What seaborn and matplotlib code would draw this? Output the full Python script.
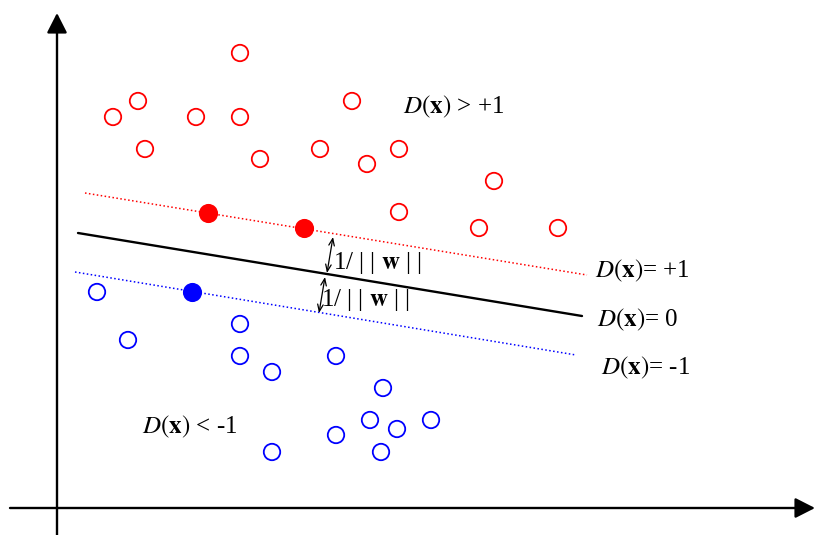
import matplotlib
matplotlib.use("Agg")
import matplotlib.pyplot as plt
import seaborn as sns
import pandas as pd

# positive class (hollow), pixel coordinates
red_x = [240, 138, 113, 196, 240, 352, 145, 260, 320, 367, 399, 494, 399, 479, 558]
red_y = [53, 101, 117, 117, 117, 101, 149, 159, 149, 164, 149, 181, 212, 228, 228]
# support vectors of positive class
red_sv_x = [208, 304]
red_sv_y = [213, 228]

# negative class
blue_x = [97, 128, 240, 240, 272, 336, 383, 370, 397, 431, 336, 272, 381]
blue_y = [292, 340, 324, 356, 372, 356, 388, 420, 429, 420, 435, 452, 452]
blue_sv_x = [192]
blue_sv_y = [292]

# boundary lines (end points)
plus_x, plus_y = [85, 587], [193, 275]
zero_x, zero_y = [78, 582], [233, 316]
minus_x, minus_y = [75, 576], [272, 355]

sns.set_style("white")
plt.rcParams["mathtext.fontset"] = "stix"
plt.rcParams["font.family"] = ["Liberation Serif", "DejaVu Serif"]
plt.rcParams["text.color"] = "black"

fig = plt.figure(figsize=(8.15, 5.35), dpi=100)
ax = fig.add_axes([0, 0, 1, 1])
ax.set_xlim(0, 815)
ax.set_ylim(535, 0)
ax.axis("off")

# axes with arrows
arr = dict(arrowstyle="-|>,head_length=0.55,head_width=0.28", mutation_scale=22,
           lw=1.7, color="black", shrinkA=0, shrinkB=0)
ax.annotate("", xy=(57, 13), xytext=(57, 535), arrowprops=arr)
ax.annotate("", xy=(815, 508), xytext=(10, 508), arrowprops=arr)

# hyperplanes
sns.lineplot(x=plus_x, y=plus_y, ax=ax, color="red", lw=1.1, linestyle=(0, (1, 1.6)))
sns.lineplot(x=zero_x, y=zero_y, ax=ax, color="black", lw=1.7)
sns.lineplot(x=minus_x, y=minus_y, ax=ax, color="blue", lw=1.1, linestyle=(0, (1, 1.6)))

# points
pos = pd.DataFrame({"x": red_x, "y": red_y})
neg = pd.DataFrame({"x": blue_x, "y": blue_y})
sns.scatterplot(data=pos, x="x", y="y", ax=ax, s=140, facecolor="none",
                edgecolor="red", linewidth=1.3, zorder=3)
sns.scatterplot(data=neg, x="x", y="y", ax=ax, s=140, facecolor="none",
                edgecolor="blue", linewidth=1.3, zorder=3)
sns.scatterplot(x=red_sv_x, y=red_sv_y, ax=ax, s=190, color="red", linewidth=0, zorder=3)
sns.scatterplot(x=blue_sv_x, y=blue_sv_y, ax=ax, s=190, color="blue", linewidth=0, zorder=3)

# margin arrows
marg = dict(arrowstyle="<->,head_length=0.5,head_width=0.2", mutation_scale=10,
            lw=0.9, color="black", shrinkA=0, shrinkB=0)
ax.annotate("", xy=(333, 237), xytext=(327, 273), arrowprops=marg)
ax.annotate("", xy=(325, 277), xytext=(319, 313), arrowprops=marg)

fs = 18
ax.text(333, 263, r"1/ | | $\mathbf{w}$ | |", fontsize=fs, va="center", ha="left", color="black")
ax.text(321, 300, r"1/ | | $\mathbf{w}$ | |", fontsize=fs, va="center", ha="left", color="black")

ax.text(403, 107, r"$D(\mathbf{x})$ > +1", fontsize=fs, va="center", ha="left", color="black")
ax.text(595, 271, r"$D(\mathbf{x})$= +1", fontsize=fs, va="center", ha="left", color="black")
ax.text(597, 320, r"$D(\mathbf{x})$= 0", fontsize=fs, va="center", ha="left", color="black")
ax.text(601, 368, r"$D(\mathbf{x})$= -1", fontsize=fs, va="center", ha="left", color="black")
ax.text(142, 427, r"$D(\mathbf{x})$ < -1", fontsize=fs, va="center", ha="left", color="black")

fig.savefig("out.png", dpi=100)
